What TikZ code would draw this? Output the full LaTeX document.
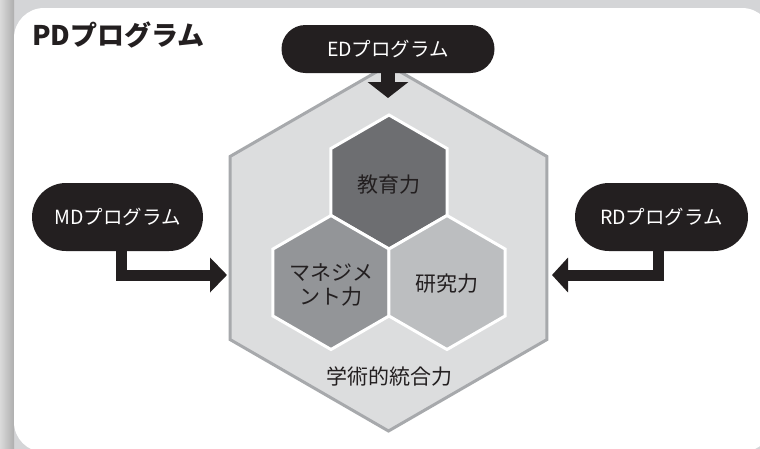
\documentclass[tikz,border=0pt]{standalone}
\usepackage{fontspec}
\setmainfont{Noto Sans CJK JP}
\usetikzlibrary{arrows.meta}
\definecolor{ink}{HTML}{231F20}
\definecolor{bgray}{HTML}{D4D5D7}
\definecolor{bigfill}{HTML}{DCDDDE}
\definecolor{bigline}{HTML}{A7A9AC}
\definecolor{hexA}{HTML}{6D6E71}
\definecolor{hexB}{HTML}{939598}
\definecolor{hexC}{HTML}{BCBEC0}
\newcommand\hexshape[3]{({#1},{#2-#3}) -- ({#1+0.866*#3},{#2-0.5*#3}) -- ({#1+0.866*#3},{#2+0.5*#3}) -- ({#1},{#2+#3}) -- ({#1-0.866*#3},{#2+0.5*#3}) -- ({#1-0.866*#3},{#2-0.5*#3}) -- cycle}
\tikzset{
  pill/.style={fill=ink, text=white, font=\fontsize{19.5}{22}\selectfont, inner sep=0pt},
  flow/.style={draw=ink, line join=miter},
  hexlabel/.style={text=ink, font=\fontsize{21}{24}\selectfont, align=center, inner sep=0pt},
}
\begin{document}
\begin{tikzpicture}[x=1pt,y=-1pt]
\useasboundingbox (0,0) rectangle (760,448);
% background
\fill[bgray] (-5,-5) rectangle (765,453);
\shade[left color=black!8, right color=black!32] (-5,-5) rectangle (14,453);
\fill[white, rounded corners=30pt] (14,8) rectangle (772,452);
\fill[white] (50,430) rectangle (735,460);
% big hexagon
\draw[fill=bigfill, draw=bigline, line width=3pt, line join=miter] \hexshape{388.5}{248}{183};
% inner hexagons
\draw[fill=hexA, draw=white, line width=3pt] \hexshape{389}{182}{67};
\draw[fill=hexB, draw=white, line width=3pt] \hexshape{331}{282.5}{67};
\draw[fill=hexC, draw=white, line width=3pt] \hexshape{447}{282.5}{67};
\node[hexlabel] (edu) at (389,185) {教育力};
\node[hexlabel] (mgmt) at (331,285) {マネジメ\\ント力};
\node[hexlabel] (res) at (447,284) {研究力};
\node[hexlabel] (acad) at (389,377) {学術的統合力};
% title
\node[anchor=base west, inner sep=0pt, text=ink, font=\fontsize{27}{30}\selectfont\bfseries] (title) at (32,45) {PDプログラム};
% arrow end points
\coordinate (edtip) at (388,98);
\coordinate (mdbend) at (121,275);
\coordinate (mdtip) at (227,275);
\coordinate (rdbend) at (658.5,275);
\coordinate (rdtip) at (552,275);
% pill positions (drawn after the arrows)
\coordinate (edc) at (388,49);
\coordinate (mdc) at (117.5,217);
\coordinate (rdc) at (661.5,217);
\draw[flow, line width=14pt, -{Triangle[length=16pt,width=40pt]}] (edc) -- (edtip);
\draw[flow, line width=11pt, -{Triangle[length=17pt,width=34pt]}] (mdc -| mdbend) |- (mdtip);
\draw[flow, line width=11pt, -{Triangle[length=16pt,width=34pt]}] (rdc -| rdbend) |- (rdtip);
% pills
\node[pill, minimum width=213pt, minimum height=48pt, rounded corners=24pt] (ed) at (edc) {EDプログラム};
\node[pill, minimum width=171pt, minimum height=68pt, rounded corners=34pt] (md) at (mdc) {MDプログラム};
\node[pill, minimum width=173pt, minimum height=68pt, rounded corners=34pt] (rd) at (rdc) {RDプログラム};
\end{tikzpicture}
\end{document}
